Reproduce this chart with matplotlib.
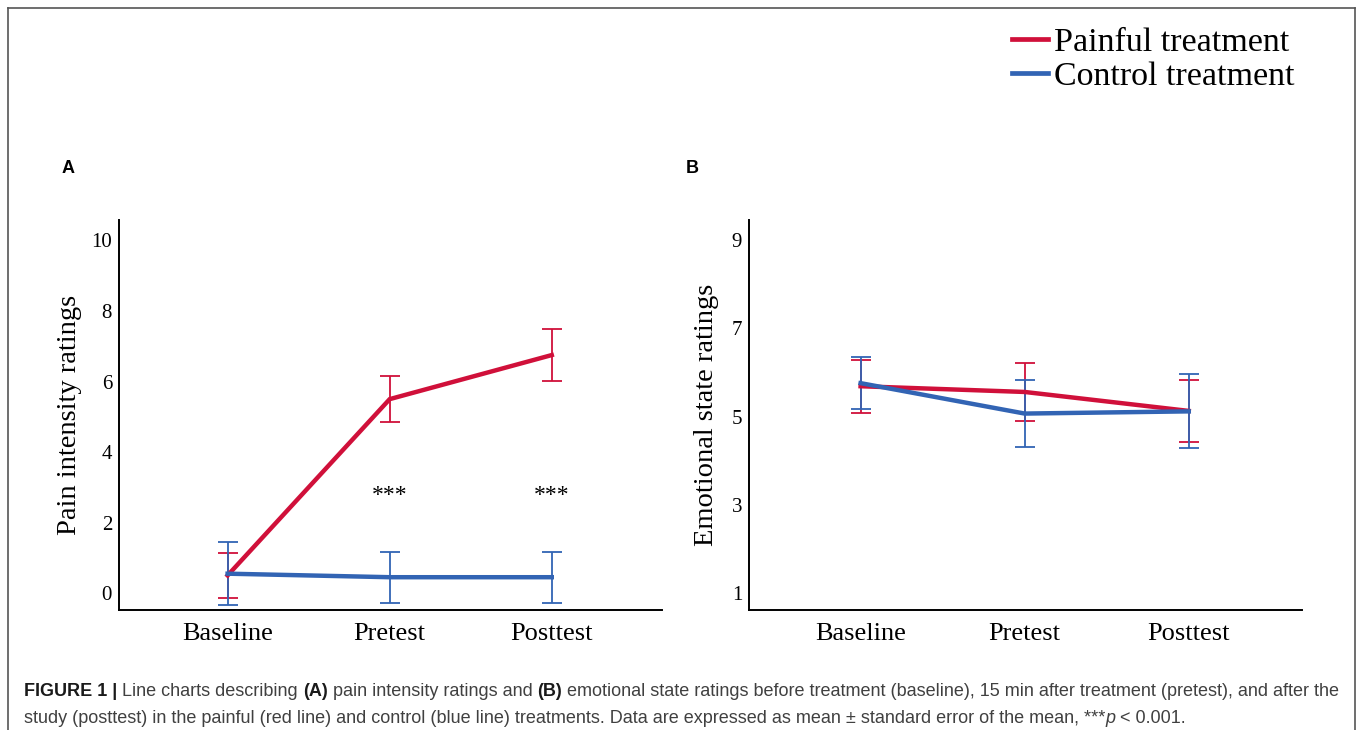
import matplotlib
matplotlib.use("Agg")
import matplotlib.pyplot as plt
from matplotlib.lines import Line2D
from matplotlib.text import Annotation

phases = ["Baseline", "Pretest", "Posttest"]

# panel A: pain intensity ratings (mean, SE)
pain_painful = [0.50, 5.50, 6.75]
pain_painful_se = [0.65, 0.65, 0.74]
pain_control = [0.55, 0.45, 0.45]
pain_control_se = [0.90, 0.72, 0.72]
stars = ["", "***", "***"]

# panel B: emotional state ratings (mean, SE)
emo_painful = [5.69, 5.56, 5.13]
emo_painful_se = [0.60, 0.66, 0.70]
emo_control = [5.76, 5.07, 5.12]
emo_control_se = [0.59, 0.75, 0.84]

RED = "#d0103a"
BLUE = "#3264b4"
SERIF = "Liberation Serif"
SANS = "Liberation Sans"

fig = plt.figure(figsize=(13.6, 7.3), dpi=100)

# thin frame round the figure (no bottom edge)
fx0, fx1, fy = 8 / 1360, 1355 / 1360, 1 - 8 / 730
for xs, ys in [([fx0, fx0], [0, fy]), ([fx0, fx1], [fy, fy]), ([fx1, fx1], [0, fy])]:
    fig.add_artist(Line2D(xs, ys, transform=fig.transFigure, color="#555555", lw=1.2))

axA = fig.add_axes([119 / 1360, 1 - 610 / 730, 543 / 1360, 390 / 730])
axB = fig.add_axes([749 / 1360, 1 - 610 / 730, 553 / 1360, 390 / 730])

x = list(range(len(phases)))


def draw(ax, painful, painful_se, control, control_se):
    for y, se, c, z in [(painful, painful_se, RED, 3), (control, control_se, BLUE, 4)]:
        ax.errorbar(x, y, yerr=se, fmt="none", ecolor=c, elinewidth=1.3, capsize=7, capthick=1.3, zorder=z)
    ax.plot(x, painful, color=RED, lw=3.2, solid_joinstyle="miter", zorder=5)
    ax.plot(x, control, color=BLUE, lw=3.2, solid_joinstyle="miter", zorder=6)
    for s in ["top", "right"]:
        ax.spines[s].set_visible(False)
    for s in ["left", "bottom"]:
        ax.spines[s].set_linewidth(1.4)
    ax.tick_params(length=0)
    ax.tick_params(axis="y", pad=5, labelsize=15)
    ax.tick_params(axis="x", pad=9, labelsize=19)
    ax.set_xticks(x)
    ax.set_xticklabels(phases, fontfamily=SERIF)


draw(axA, pain_painful, pain_painful_se, pain_control, pain_control_se)
axA.set_xlim(-0.67, 2.68)
axA.set_ylim(-0.48, 10.58)
axA.set_yticks([0, 2, 4, 6, 8, 10])
axA.set_yticklabels(["0", "2", "4", "6", "8", "10"], fontfamily=SERIF)
axA.set_ylabel("Pain intensity ratings", fontfamily=SERIF, fontsize=20.5)
axA.yaxis.set_label_coords(-0.068, 0.5)
for i, s in enumerate(stars):
    if s:
        axA.text(x[i], 2.6, s, ha="center", va="baseline", fontfamily=SERIF, fontsize=17)

draw(axB, emo_painful, emo_painful_se, emo_control, emo_control_se)
axB.set_xlim(-0.68, 2.69)
axB.set_ylim(0.615, 9.46)
axB.set_yticks([1, 3, 5, 7, 9])
axB.set_yticklabels(["1", "3", "5", "7", "9"], fontfamily=SERIF)
axB.set_ylabel("Emotional state ratings", fontfamily=SERIF, fontsize=20.5)
axB.yaxis.set_label_coords(-0.054, 0.5)

fig.text(62 / 1360, 1 - 173 / 730, "A", fontfamily=SANS, fontweight="bold", fontsize=13)
fig.text(686 / 1360, 1 - 173 / 730, "B", fontfamily=SANS, fontweight="bold", fontsize=13)

handles = [Line2D([], [], color=RED, lw=3.4), Line2D([], [], color=BLUE, lw=3.4)]
fig.legend(handles, ["Painful treatment", "Control treatment"], loc="upper right",
           bbox_to_anchor=(1295 / 1360, 1 - 27 / 730), frameon=False,
           prop={"family": SERIF, "size": 24.5}, handlelength=1.05, handletextpad=0.2,
           labelspacing=0.1, borderpad=0, borderaxespad=0)

# caption, built from pieces so that parts can be bold / italic
DARK = "#1a1a1a"
GREY = "#404040"
cap_lines = [
    [("FIGURE 1 | ", "bold", "normal", DARK), ("Line charts describing ", "normal", "normal", GREY),
     ("(A)", "bold", "normal", DARK), (" pain intensity ratings and ", "normal", "normal", GREY),
     ("(B)", "bold", "normal", DARK),
     (" emotional state ratings before treatment (baseline), 15 min after treatment (pretest), and after the",
      "normal", "normal", GREY)],
    [("study (posttest) in the painful (red line) and control (blue line) treatments. Data are expressed as mean \u00b1 standard error of the mean, ***",
      "normal", "normal", GREY),
     ("p", "normal", "italic", GREY), (" < 0.001.", "normal", "normal", GREY)],
]
cap_y = [1 - 700 / 730, 1 - 727 / 730]
for line, yy in zip(cap_lines, cap_y):
    prev = None
    for txt, w, st, col in line:
        kw = dict(fontfamily=SANS, fontweight=w, fontstyle=st, fontsize=13.0, color=col, va="bottom")
        if prev is None:
            prev = fig.text(24 / 1360, yy, txt, **kw)
        else:
            prev = fig.add_artist(Annotation(txt, xy=(1, 0), xycoords=prev, **kw))

fig.savefig("out.png", dpi=100)
